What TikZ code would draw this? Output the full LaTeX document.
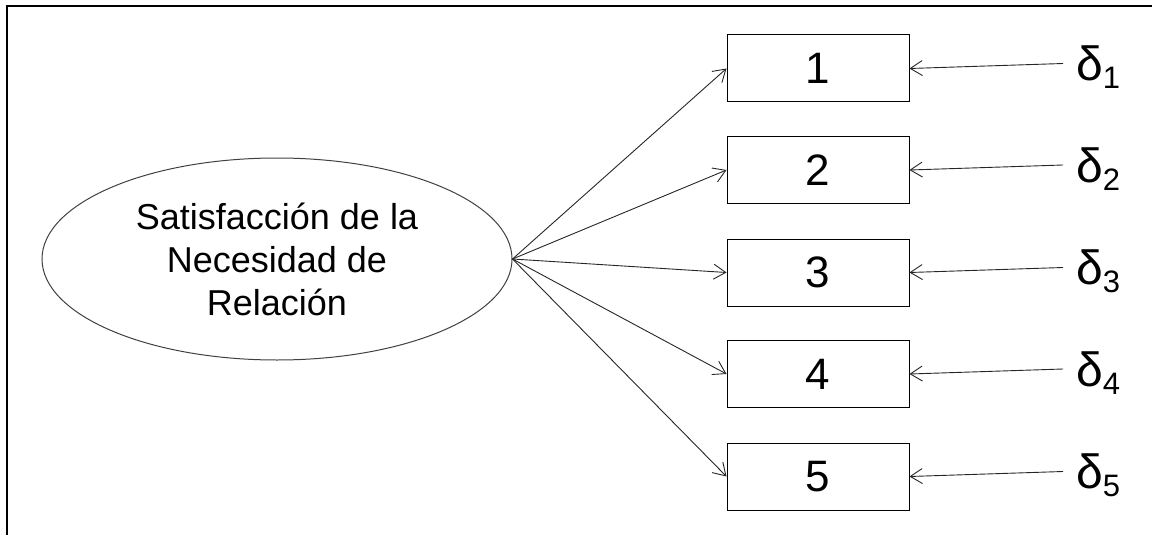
\documentclass[tikz,border=0pt]{standalone}
\usepackage{fontspec}
\setmainfont{Liberation Sans}
\usetikzlibrary{arrows.meta,shapes.geometric}
% lowered, smaller index after an error symbol
\newcommand\errindex[1]{{\fontsize{31}{31}\selectfont\raisebox{-8pt}{#1}}}
\begin{document}
\begin{tikzpicture}[x=1pt,y=-1pt,
  conn/.style={draw=black!85, line width=0.9pt,
    -{Straight Barb[length=12pt,width=15pt,line width=0.9pt]}},
  item/.style={draw, line width=1pt, minimum width=182pt, minimum height=67pt,
    inner sep=0pt, font=\fontsize{44}{44}\selectfont},
  latent/.style={ellipse, draw=black!75, line width=1pt, minimum width=470pt,
    minimum height=202pt, inner sep=0pt, align=center,
    font=\fontsize{36}{43}\selectfont},
  err/.style={anchor=base west, inner sep=0pt, font=\fontsize{48}{48}\selectfont}]
\useasboundingbox (0,0) rectangle (1152,535);
% frame edges
\draw[line width=2pt] (6.5,535) -- (6.5,6.5) -- (1152,6.5);
% latent factor
\node[latent] (lat) at (277,259) {Satisfacción de la\\Necesidad de\\Relación};
% indicators with their error terms
\foreach \i/\y in {1/68.5, 2/170, 3/272.5, 4/374, 5/476.5} {
  \node[item] (b\i) at (818,\y) {\i};
  \draw[conn] (lat.east) -- (b\i.west);
  \coordinate (e\i) at (1063,\y-5);
  \draw[conn] (e\i) -- (b\i.east);
  \node[err] (d\i) at (1076,\y+12) {δ\errindex{\i}};
}
\end{tikzpicture}
\end{document}
